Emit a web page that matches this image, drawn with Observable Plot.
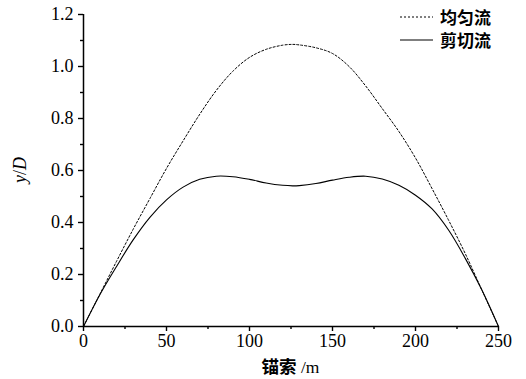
<!DOCTYPE html>
<html><head><meta charset="utf-8">
<script src="https://cdn.jsdelivr.net/npm/d3@7"></script>
<script src="https://cdn.jsdelivr.net/npm/@observablehq/plot@0.6"></script>
<style>
body{margin:0;background:#fff;}
#wrap{position:relative;width:526px;height:379px;overflow:hidden;background:#fff;}
#wrap svg, #wrap svg text{font-family:"Liberation Serif","Times New Roman","DejaVu Serif",serif !important;}
.lab{position:absolute;color:#000;white-space:nowrap;line-height:1;}
.cjk{font-family:"Noto Sans CJK SC";font-weight:bold;}
.ser{font-family:"Liberation Serif","Times New Roman","DejaVu Serif",serif;}
</style></head>
<body><div id="wrap"></div>
<script>
const positions = [0,10,20,30,40,50,60,70,80,90,100,110,120,126,130,140,150,160,170,180,190,200,210,220,230,240,250];
const uniformFlow = [0,0.126,0.252,0.375,0.492,0.608,0.714,0.816,0.908,0.982,1.035,1.066,1.082,1.085,1.083,1.072,1.05,1.0,0.925,0.838,0.75,0.648,0.53,0.408,0.28,0.14,0];
const shearFlow = [0,0.124,0.232,0.334,0.42,0.487,0.536,0.566,0.578,0.576,0.566,0.552,0.543,0.541,0.542,0.55,0.563,0.574,0.578,0.567,0.543,0.505,0.452,0.37,0.262,0.14,0];
const seriesNames = ["均匀流","剪切流"];
const xMajor = [0,50,100,150,200,250];
const xMinor = [25,75,125,175,225];
const yMajor = [0,0.2,0.4,0.6,0.8,1.0,1.2];
const yMinor = [0.1,0.3,0.5,0.7,0.9,1.1];

const uniformRows = positions.map((p,i)=>({x:p,y:uniformFlow[i]}));
const shearRows = positions.map((p,i)=>({x:p,y:shearFlow[i]}));
const serif = "'Liberation Serif', 'Times New Roman', 'DejaVu Serif', serif";

const chart = Plot.plot({
  width:526, height:379,
  marginLeft:83, marginRight:28, marginTop:14, marginBottom:53,
  style:{fontFamily:serif, fontSize:"18px", background:"white", color:"black", overflow:"visible"},
  x:{domain:[0,250]},
  y:{domain:[0,1.2]},
  marks:[
    Plot.axisX(xMajor,{tickSize:5, tickPadding:3, strokeWidth:1.4, label:null, fontFamily:serif, fontSize:18, tickFormat:d3.format("d")}),
    Plot.axisX(xMinor,{tickSize:3, strokeWidth:1.4, fill:"none", label:null}),
    Plot.axisY(yMajor,{tickSize:5, tickPadding:5, strokeWidth:1.4, label:null, fontFamily:serif, fontSize:18, tickFormat:d3.format(".1f")}),
    Plot.axisY(yMinor,{tickSize:3, strokeWidth:1.4, fill:"none", label:null}),
    Plot.line(uniformRows,{x:"x", y:"y", stroke:"#000", strokeWidth:1, strokeDasharray:"2,2", curve:"catmull-rom"}),
    Plot.line(shearRows,{x:"x", y:"y", stroke:"#000", strokeWidth:1.1, curve:"catmull-rom"}),
    Plot.ruleY([0],{stroke:"#000", strokeWidth:1.5}),
    Plot.ruleX([0],{stroke:"#000", strokeWidth:1.5})
  ]
});
const wrap = document.getElementById("wrap");
wrap.appendChild(chart);

function addLabel(html, cls, style){
  const d = document.createElement("div");
  d.className = "lab " + cls;
  d.innerHTML = html;
  Object.assign(d.style, style);
  wrap.appendChild(d);
  return d;
}
// legend
const leg = document.createElement("div");
leg.className = "lab";
Object.assign(leg.style,{left:"400px", top:"5px"});
leg.innerHTML = seriesNames.map((n,i)=>`<div style="display:flex;align-items:center;height:23px;">
<svg width="33" height="4" style="margin-right:7px"><line x1="0" x2="33" y1="2" y2="2" stroke="#000" stroke-width="${i===0?1:1.1}" ${i===0?'stroke-dasharray="2,2"':''}/></svg>
<span class="cjk" style="font-size:17px;">${n}</span></div>`).join("");
wrap.appendChild(leg);

// x title
const xt = addLabel('<span class="cjk">锚索</span><span class="ser"> /m</span>', "", {fontSize:"17.5px", top:"357px"});
xt.style.left = (290.5 - xt.offsetWidth/2) + "px";
// y title
const yt = addLabel('<i>y</i>/<i>D</i>', "ser", {fontSize:"18px", left:"20px", top:"170px"});
yt.style.transform = "translate(-50%,-50%) rotate(-90deg)";
</script></body></html>
